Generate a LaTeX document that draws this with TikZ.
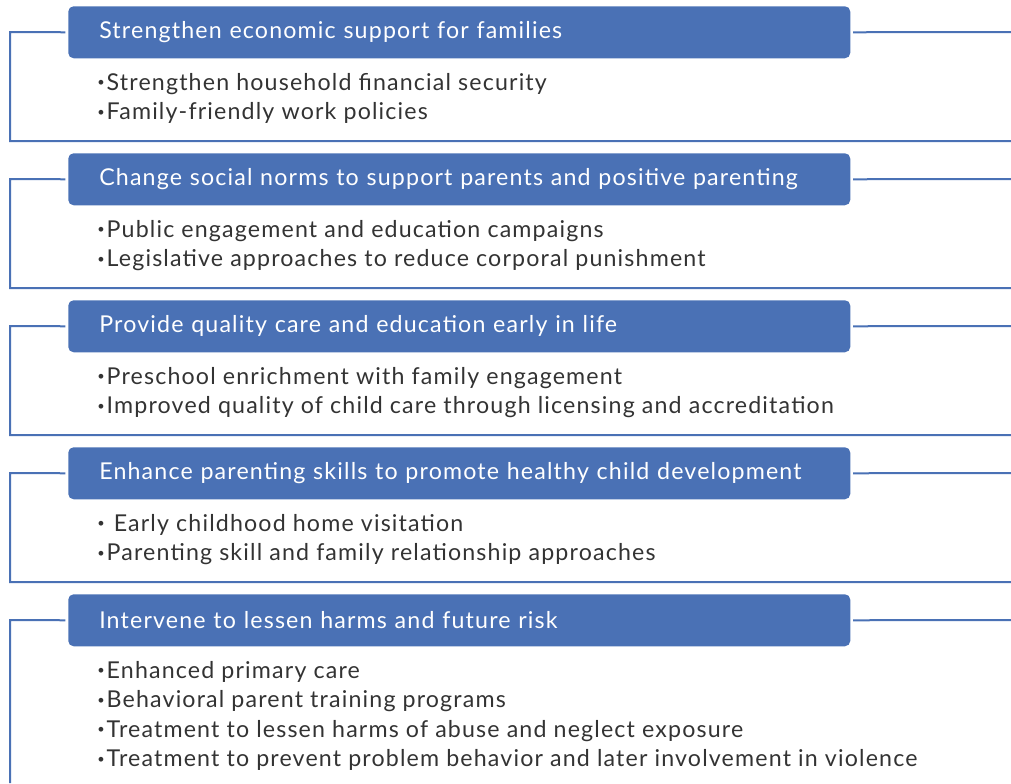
\documentclass[tikz,border=0pt]{standalone}
\usepackage{fontspec}
\usepackage{graphicx}
\setmainfont{Lato}[LetterSpace=5]
\usetikzlibrary{positioning}
\definecolor{band}{HTML}{4A71B5}
\definecolor{ink}{HTML}{333333}
\newcommand\dotitem{\raisebox{.3ex}{\scalebox{.55}{\textbullet}}\hspace{1.5pt}}
\tikzset{
  every node/.style={font=\fontsize{17.4}{22.5}\selectfont},
  header/.style={fill=band,rounded corners=4pt,text=white,anchor=north west,
    text width=540pt,align=left,inner xsep=23.25pt,inner ysep=0pt,
    minimum height=39pt},
  link/.style={draw=band,line width=1.5pt},
  item/.style={text=ink,anchor=base west,inner sep=0pt}}

\begin{document}
\begin{tikzpicture}[x=0.75pt,y=-0.75pt]
\useasboundingbox (0,0) rectangle (1011,783);
\foreach \i/\ttl/\items in {
  1/{Strengthen economic support for families}/{{Strengthen household financial security},{Family-friendly work policies}},
  2/{Change social norms to support parents and positive parenting}/{{Public engagement and education campaigns},{Legislative approaches to reduce corporal punishment}},
  3/{Provide quality care and education early in life}/{{Preschool enrichment with family engagement},{Improved quality of child care through licensing and accreditation}},
  4/{Enhance parenting skills to promote healthy child development}/{{\ Early childhood home visitation},{Parenting skill and family relationship approaches}},
  5/{Intervene to lessen harms and future risk}/{{Enhanced primary care},{Behavioral parent training programs},{Treatment to lessen harms of abuse and neglect exposure},{Treatment to prevent problem behavior and later involvement in violence}}}{
  \pgfmathsetmacro\top{6+147*(\i-1)}
  \node[header] (h\i) at (68,\top) {\ttl};
  % side rails
  \coordinate (l\i) at (10,\top+26);
  \coordinate (r\i) at (1011,\top+26);
  \ifnum\i<5 \coordinate (e\i) at (1011,\top+135);
  \else \coordinate (e\i) at (10,783); \fi
  \draw[link] ([xshift=-2pt]h\i.west) -- (l\i) |- (e\i);
  \draw[link] ([xshift=2pt]h\i.east) -- (r\i);
  \foreach \txt [count=\j] in \items
    \node[item] (b\i-\j) at (97,\top+84+29.6*\j-29.6) {\dotitem\txt};
}
\end{tikzpicture}
\end{document}
